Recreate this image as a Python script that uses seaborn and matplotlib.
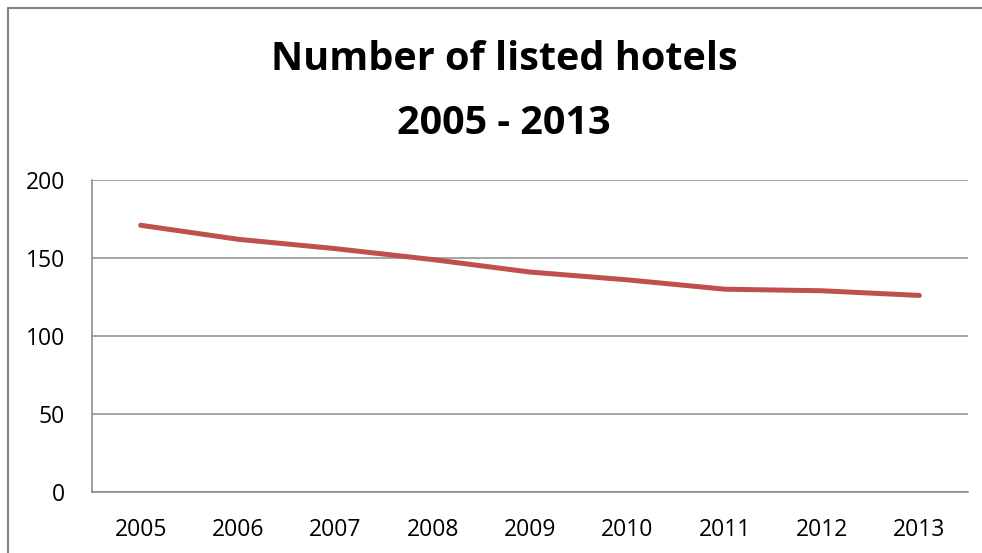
import matplotlib
matplotlib.use("Agg")
import matplotlib.pyplot as plt
import seaborn as sns
import pandas as pd
from matplotlib.lines import Line2D

years = ["2005", "2006", "2007", "2008", "2009", "2010", "2011", "2012", "2013"]
hotels = [171, 162, 156, 149, 141, 136, 130, 129, 126]
y_ticks = [0, 50, 100, 150, 200]
title_lines = ["Number of listed hotels", "2005 - 2013"]

sns.set_style("white")
plt.rcParams["font.family"] = ["Open Sans", "DejaVu Sans"]

df = pd.DataFrame({"year": years, "hotels": hotels})

fig = plt.figure(figsize=(9.82, 5.53), dpi=100)
ax = fig.add_axes([92/982, 1-492/553, (968-92)/982, (492-180)/553])

sns.lineplot(data=df, x="year", y="hotels", ax=ax, color="#C0504D",
             linewidth=3.6, solid_capstyle="round", solid_joinstyle="round")

ax.set_ylim(0, 200)
ax.set_xlim(-0.5, len(years) - 0.5)
ax.set_yticks(y_ticks)
ax.set_yticklabels([str(t) for t in y_ticks], fontsize=16.5, color="black")
ax.set_xticks(range(len(years)))
ax.set_xticklabels(years, fontsize=16.5, color="black")
ax.set_xticks([i - 0.5 for i in range(len(years) + 1)], minor=True)
ax.tick_params(axis="x", which="major", length=0, pad=19)
ax.tick_params(axis="x", which="minor", length=6, width=1, color="#868686", direction="out")
ax.tick_params(axis="y", which="major", length=6.5, width=1, color="#868686", direction="out", pad=13)
ax.set_xlabel("")
ax.set_ylabel("")

ax.grid(axis="y", color="#8c8c8c", linewidth=1.1)
ax.grid(axis="x", visible=False)
for s in ["top", "right"]:
    ax.spines[s].set_visible(False)
for s in ["left", "bottom"]:
    ax.spines[s].set_color("#868686")
    ax.spines[s].set_linewidth(1.1)
ax.set_axisbelow(True)

fig.text(504/982, 1-70/553, title_lines[0], ha="center", va="baseline",
         fontsize=28.5, fontweight="bold", color="black")
fig.text(504/982, 1-134/553, title_lines[1], ha="center", va="baseline",
         fontsize=28.5, fontweight="bold", color="black")

# chart area border (left and top edges visible)
fig.add_artist(Line2D([8/982, 8/982], [0, 1-8/553], transform=fig.transFigure,
                      color="#868686", linewidth=1.5))
fig.add_artist(Line2D([8/982, 1], [1-8/553, 1-8/553], transform=fig.transFigure,
                      color="#868686", linewidth=1.5))

fig.savefig("out.png", dpi=100)
